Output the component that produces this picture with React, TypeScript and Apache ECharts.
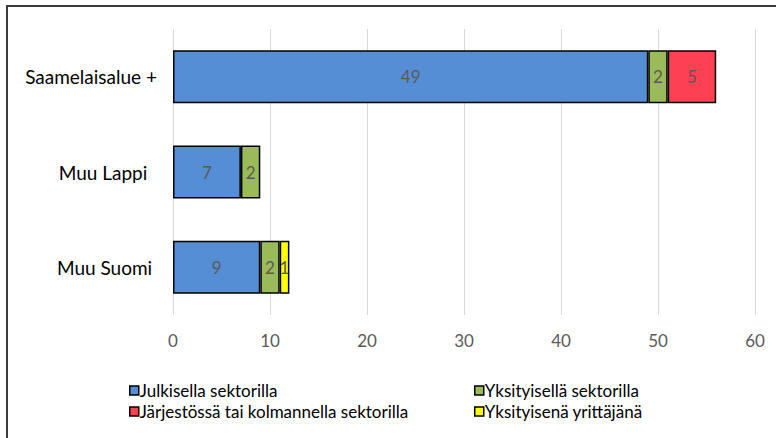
import React, { useEffect, useRef } from "react";
import * as echarts from "echarts";

const categories = ["Saamelaisalue +", "Muu Lappi  ", "Muu Suomi "];
const seriesNames = [
  "Julkisella sektorilla",
  "Yksityisellä sektorilla",
  "Järjestössä tai kolmannella sektorilla",
  "Yksityisenä yrittäjänä",
];
const julkinen = [49, 7, 9];
const yksityinen = [2, 2, 2];
const jarjesto = [5, null, null];
const yrittaja = [null, null, 1];
const xTicks = { min: 0, max: 60, interval: 10 };

const colors = ["#558ED5", "#9BBB59", "#FD4152", "#FFFF00"];
const FONT = "Lato, 'Liberation Sans', sans-serif";

export default function App() {
  const ref = useRef<HTMLDivElement>(null);

  useEffect(() => {
    document.body.style.margin = "0";
    if (!ref.current) return;
    const chart = echarts.init(ref.current, undefined, { renderer: "svg" });
    const values = [julkinen, yksityinen, jarjesto, yrittaja];
    const legendText = { color: "#000", fontSize: 17, padding: [0, 0, 0, -4], fontFamily: FONT };
    chart.setOption({
      animation: false,
      textStyle: { fontFamily: FONT },
      graphic: [
        {
          type: "rect",
          shape: { x: 7, y: 6, width: 820, height: 500 },
          style: { fill: "none", stroke: "#3a3a3a", lineWidth: 2 },
          silent: true,
        },
      ],
      grid: { left: 173, right: 21, top: 29, bottom: 123, containLabel: false },
      xAxis: {
        type: "value",
        min: xTicks.min,
        max: xTicks.max,
        interval: xTicks.interval,
        axisLine: { show: false },
        axisTick: { show: false },
        splitLine: { lineStyle: { color: "#D9D9D9", width: 1 } },
        axisLabel: { color: "#595959", fontSize: 17, margin: 17, fontFamily: FONT },
      },
      yAxis: {
        type: "category",
        data: categories,
        inverse: true,
        axisLine: { show: false },
        axisTick: { show: false },
        axisLabel: { color: "#000", fontSize: 19, margin: 16, fontFamily: FONT },
      },
      legend: [
        {
          orient: "vertical",
          left: 124,
          top: 377,
          itemGap: 4,
          itemWidth: 9,
          itemHeight: 9,
          icon: "rect",
          itemStyle: { borderColor: "#000", borderWidth: 1.5 },
          data: [seriesNames[0], seriesNames[2]],
          textStyle: legendText,
        },
        {
          orient: "vertical",
          left: 469,
          top: 377,
          itemGap: 4,
          itemWidth: 9,
          itemHeight: 9,
          icon: "rect",
          itemStyle: { borderColor: "#000", borderWidth: 1.5 },
          data: [seriesNames[1], seriesNames[3]],
          textStyle: legendText,
        },
      ],
      series: seriesNames.map((name, i) => ({
        name,
        type: "bar",
        stack: "total",
        barWidth: 53,
        data: values[i],
        itemStyle: { color: colors[i], borderColor: "#000", borderWidth: 1.5 },
        label: {
          show: true,
          position: "inside",
          color: "#595959",
          fontSize: 17,
          fontFamily: FONT,
        },
      })),
    });
    return () => chart.dispose();
  }, []);

  return <div ref={ref} style={{ width: 776, height: 438 }} />;
}
